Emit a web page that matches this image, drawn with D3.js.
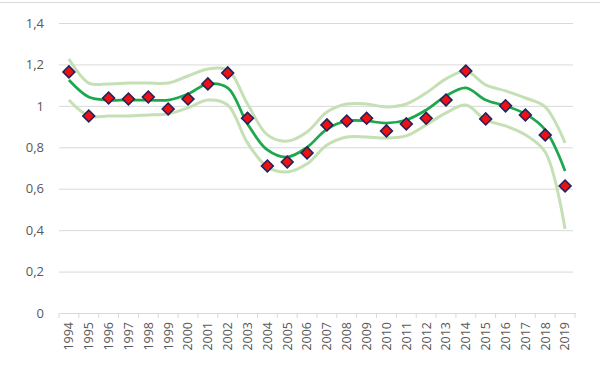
<!DOCTYPE html>
<html>
<head>
<meta charset="utf-8">
<script src="https://cdn.jsdelivr.net/npm/d3@7"></script>
<style>
  body { margin: 0; background: #fff; }
  text { font-family: "Open Sans", "Liberation Sans", sans-serif; fill: #595959; }
</style>
</head>
<body>
<svg id="chart"></svg>
<script>
const years = ["1994","1995","1996","1997","1998","1999","2000","2001","2002","2003","2004","2005","2006",
  "2007","2008","2009","2010","2011","2012","2013","2014","2015","2016","2017","2018","2019"]

// observed values (red diamonds)
const observed = [1.164, 0.951, 1.038, 1.033, 1.043, 0.985, 1.033, 1.106, 1.159, 0.940, 0.710, 0.729, 0.773,
  0.908, 0.927, 0.940, 0.879, 0.913, 0.940, 1.028, 1.168, 0.937, 1.000, 0.956, 0.859, 0.613]

// smoothed trend (dark green)
const trend = [1.125, 1.043, 1.028, 1.028, 1.028, 1.028, 1.057, 1.106, 1.087, 0.913, 0.787, 0.753, 0.800,
  0.888, 0.927, 0.927, 0.917, 0.932, 0.980, 1.048, 1.087, 1.028, 1.000, 0.961, 0.884, 0.686]

// confidence band (light green)
const upper = [1.226, 1.110, 1.106, 1.110, 1.110, 1.110, 1.144, 1.178, 1.173, 1.009, 0.860, 0.830, 0.874,
  0.970, 1.009, 1.009, 0.995, 1.009, 1.062, 1.130, 1.168, 1.101, 1.072, 1.038, 0.995, 0.821]
const lower = [1.028, 0.951, 0.951, 0.951, 0.956, 0.961, 0.990, 1.028, 1.004, 0.821, 0.705, 0.681, 0.720,
  0.811, 0.850, 0.850, 0.845, 0.855, 0.908, 0.966, 1.004, 0.932, 0.903, 0.860, 0.777, 0.406]

const yTicks = [0, 0.2, 0.4, 0.6, 0.8, 1, 1.2, 1.4]

const svgWidth = 600
const svgHeight = 378
const margin = {top: 23, right: 25, bottom: 65, left: 59}

const svg = d3.select("#chart")
  .attr("width", svgWidth)
  .attr("height", svgHeight)

const xScale = d3.scaleBand()
  .domain(years)
  .range([margin.left, svgWidth - margin.right])
  .paddingInner(0).paddingOuter(0)

const yScale = d3.scaleLinear()
  .domain([0, 1.4])
  .range([svgHeight - margin.bottom, margin.top])

const locale = d3.formatLocale({decimal: ",", thousands: ".", grouping: [3], currency: ["", ""]})
const fmt = locale.format("~g")

// thin border line at top
svg.append("line")
  .attr("x1", 0).attr("x2", svgWidth)
  .attr("y1", 2.5).attr("y2", 2.5)
  .attr("stroke", "#d9d9d9")

// gridlines + y labels
const yAxis = svg.append("g")
  .attr("transform", `translate(${margin.left},0)`)
  .call(d3.axisLeft(yScale).tickValues(yTicks).tickFormat(fmt)
    .tickSize(-(svgWidth - margin.left - margin.right - 2)).tickPadding(15))
yAxis.select(".domain").remove()
yAxis.selectAll("line").attr("stroke", d => d === 0 ? "none" : "#d9d9d9")
yAxis.selectAll("text").style("font-size", "13px").attr("fill", "#666")

// category axis
const xAxis = svg.append("g")
  .attr("transform", `translate(0,${yScale(0)})`)
  .call(d3.axisBottom(xScale).tickSize(0).tickPadding(0))
xAxis.select(".domain").attr("stroke", "#d9d9d9")
xAxis.selectAll("text")
  .style("font-size", "12.5px")
  .attr("fill", "#666")
  .attr("text-anchor", "end")
  .attr("dy", "0.35em")
  .attr("transform", "translate(0,9) rotate(-90)")

// tick marks between categories
svg.append("g").selectAll("line")
  .data(years.concat(["end"]))
  .join("line")
  .attr("x1", (d, i) => i < years.length ? xScale(d) : xScale(years[years.length - 1]) + xScale.bandwidth())
  .attr("x2", (d, i) => i < years.length ? xScale(d) : xScale(years[years.length - 1]) + xScale.bandwidth())
  .attr("y1", yScale(0)).attr("y2", yScale(0) + 5)
  .attr("stroke", "#d9d9d9")

const cx = i => xScale(years[i]) + xScale.bandwidth() / 2

const line = d3.line()
  .x((d, i) => cx(i))
  .y(d => yScale(d))
  .curve(d3.curveCatmullRom.alpha(0.5))

svg.append("path").datum(upper)
  .attr("d", line).attr("fill", "none")
  .attr("stroke", "#c5e0b4").attr("stroke-width", 3)

svg.append("path").datum(lower)
  .attr("d", line).attr("fill", "none")
  .attr("stroke", "#c5e0b4").attr("stroke-width", 3)

svg.append("path").datum(trend)
  .attr("d", line).attr("fill", "none")
  .attr("stroke", "#1ea84e").attr("stroke-width", 2.75)

// diamond markers
svg.append("g").selectAll("path")
  .data(observed)
  .join("path")
  .attr("d", d3.symbol(d3.symbolSquare, 70))
  .attr("transform", (d, i) => `translate(${cx(i)},${yScale(d)}) rotate(45)`)
  .attr("fill", "#ee1111")
  .attr("stroke", "#25235e")
  .attr("stroke-width", 1.6)
</script>
</body>
</html>
